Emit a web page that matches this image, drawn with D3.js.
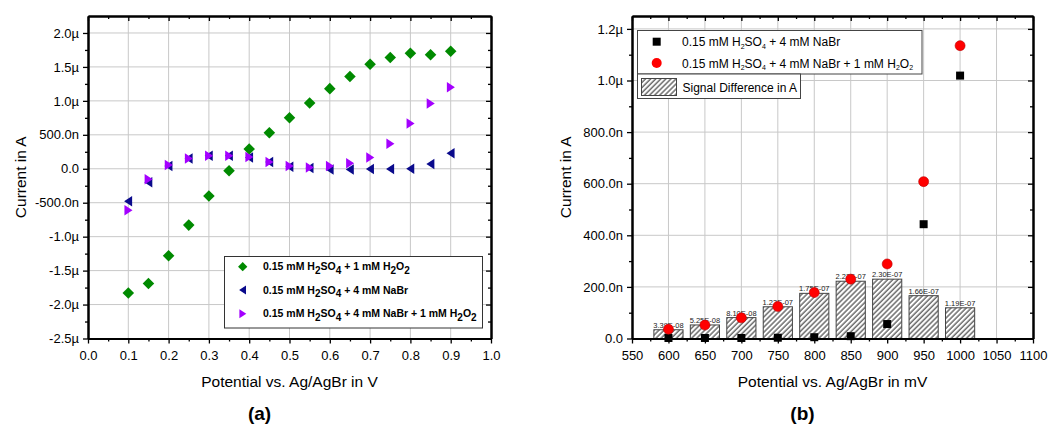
<!DOCTYPE html>
<html><head><meta charset="utf-8">
<script src="https://cdn.jsdelivr.net/npm/d3@7"></script>
<style>body{margin:0;background:#fff}svg{display:block}text{font-family:"Liberation Sans",Arial,sans-serif}</style>
</head><body>
<script>
// ---------- DATA (panel a) ----------
const potentialA = [0.10,0.15,0.20,0.25,0.30,0.35,0.40,0.45,0.50,0.55,0.60,0.65,0.70,0.75,0.80,0.85,0.90];
const h2o2Only = [-1.83e-6,-1.69e-6,-1.28e-6,-0.83e-6,-0.40e-6,-0.03e-6,0.29e-6,0.53e-6,0.75e-6,0.97e-6,1.18e-6,1.36e-6,1.54e-6,1.64e-6,1.70e-6,1.68e-6,1.73e-6];
const nabrOnly = [-0.48e-6,-0.20e-6,0.04e-6,0.15e-6,0.19e-6,0.19e-6,0.165e-6,0.10e-6,0.03e-6,0.01e-6,-0.01e-6,-0.01e-6,-0.005e-6,-0.005e-6,0.0,0.07e-6,0.23e-6];
const nabrH2o2 = [-0.61e-6,-0.155e-6,0.055e-6,0.15e-6,0.19e-6,0.19e-6,0.175e-6,0.10e-6,0.04e-6,0.02e-6,0.04e-6,0.08e-6,0.165e-6,0.37e-6,0.665e-6,0.96e-6,1.20e-6];
const xTicksA = [0,0.1,0.2,0.3,0.4,0.5,0.6,0.7,0.8,0.9,1.0];
const xMinorA = [0.05,0.15,0.25,0.35,0.45,0.55,0.65,0.75,0.85,0.95];
const yTicksA = [-2.5e-6,-2.0e-6,-1.5e-6,-1.0e-6,-0.5e-6,0,0.5e-6,1.0e-6,1.5e-6,2.0e-6];
const yMinorA = [-2.25e-6,-1.75e-6,-1.25e-6,-0.75e-6,-0.25e-6,0.25e-6,0.75e-6,1.25e-6,1.75e-6];
const legendA = [
  [["0.15 mM H",0],["2",1],["SO",0],["4",1],[" + 1 mM H",0],["2",1],["O",0],["2",1]],
  [["0.15 mM H",0],["2",1],["SO",0],["4",1],[" + 4 mM NaBr",0]],
  [["0.15 mM H",0],["2",1],["SO",0],["4",1],[" + 4 mM NaBr + 1 mM H",0],["2",1],["O",0],["2",1]]
];
// ---------- DATA (panel b) ----------
const potentialB = [600,650,700,750,800,850,900,950,1000];
const nabrB = [2e-9,2e-9,2e-9,3e-9,5e-9,9e-9,56e-9,443e-9,1019e-9];
const nabrH2o2B = [36e-9,52e-9,80e-9,124e-9,178e-9,230e-9,289e-9,608e-9,1135e-9];
const signalDiff = [3.39e-8,5.25e-8,8.10e-8,1.23e-7,1.75e-7,2.22e-7,2.30e-7,1.66e-7,1.19e-7];
const xTicksB = [550,600,650,700,750,800,850,900,950,1000,1050,1100];
const xMinorB = [575,625,675,725,775,825,875,925,975,1025,1075];
const yTicksB = [0,200e-9,400e-9,600e-9,800e-9,1000e-9,1200e-9];
const yMinorB = [100e-9,300e-9,500e-9,700e-9,900e-9,1100e-9];
const legendB = [
  [["0.15 mM H",0],["2",1],["SO",0],["4",1],[" + 4 mM NaBr",0]],
  [["0.15 mM H",0],["2",1],["SO",0],["4",1],[" + 4 mM NaBr + 1 mM H",0],["2",1],["O",0],["2",1]]
];

// ---------- helpers ----------
function fmtSI(v){
  if (Math.abs(v) < 1e-15) return "0.0";
  if (Math.abs(v) >= 1e-6 - 1e-12) return (v/1e-6).toFixed(1) + "\u00b5";
  return (v/1e-9).toFixed(1) + "n";
}
function fmtE(v){
  const e = Math.floor(Math.log10(v));
  const m = v/Math.pow(10,e);
  return m.toFixed(2) + "E-" + String(-e).padStart(2,"0");
}
function richText(g, x, y, parts, size, weight, subSize, subShift){
  const t = g.append("text").attr("x",x).attr("y",y).attr("font-size",size).attr("font-weight",weight).attr("fill","#000");
  let shifted = false;
  parts.forEach(([s,sub]) => {
    const ts = t.append("tspan").text(s);
    if (sub && !shifted){ ts.attr("dy",subShift).attr("font-size",subSize); shifted = true; }
    else if (sub){ ts.attr("font-size",subSize); }
    else if (!sub && shifted){ ts.attr("dy",-subShift); shifted = false; }
  });
  return t;
}

const svg = d3.select("body").append("svg").attr("width",1050).attr("height",426);
const defs = svg.append("defs");
const pat = defs.append("pattern").attr("id","hatch").attr("patternUnits","userSpaceOnUse")
  .attr("width",3.6).attr("height",3.6).attr("patternTransform","rotate(45)");
pat.append("rect").attr("width",3.6).attr("height",3.6).attr("fill","#fff");
pat.append("line").attr("x1",1).attr("y1",0).attr("x2",1).attr("y2",3.6).attr("stroke","#222").attr("stroke-width",1);

function frame(g, x, y, xT, xM, yT, yM, xFmt, xLab, yLabX, panelLabel){
  const [x0,x1] = x.range(), [y0,y1] = y.range();
  g.append("g").selectAll("line").data(xT.filter(d=>x(d)>x0+1 && x(d)<x1-1)).join("line")
    .attr("x1",d=>x(d)).attr("x2",d=>x(d)).attr("y1",y1).attr("y2",y0).attr("stroke","#c8c8c8").attr("stroke-width",1);
  g.append("g").selectAll("line").data(yT.filter(d=>y(d)<y0-1 && y(d)>y1+1)).join("line")
    .attr("y1",d=>y(d)).attr("y2",d=>y(d)).attr("x1",x0).attr("x2",x1).attr("stroke","#c8c8c8").attr("stroke-width",1);
  const style = a => { a.selectAll("path").attr("stroke","#000").attr("stroke-width",2);
    a.selectAll("line").attr("stroke","#000").attr("stroke-width",1.3);
    a.selectAll("text").attr("font-size",13).attr("fill","#000").attr("font-family","Liberation Sans, Arial, sans-serif"); };
  const axes = g.append("g").attr("class","axes");
  axes.append("g").attr("transform",`translate(0,${y0})`).call(d3.axisBottom(x).tickValues(xT).tickFormat(xFmt).tickSizeInner(5).tickSizeOuter(0).tickPadding(7)).call(style);
  axes.append("g").attr("transform",`translate(0,${y0})`).call(d3.axisBottom(x).tickValues(xM).tickFormat("").tickSizeInner(3).tickSizeOuter(0)).call(style);
  axes.append("g").attr("transform",`translate(0,${y1})`).call(d3.axisTop(x).tickValues(xT).tickFormat("").tickSizeInner(-5).tickSizeOuter(0)).call(style);
  axes.append("g").attr("transform",`translate(0,${y1})`).call(d3.axisTop(x).tickValues(xM).tickFormat("").tickSizeInner(-3).tickSizeOuter(0)).call(style);
  axes.append("g").attr("transform",`translate(${x0},0)`).call(d3.axisLeft(y).tickValues(yT).tickFormat(fmtSI).tickSizeInner(5).tickSizeOuter(0).tickPadding(4)).call(style);
  axes.append("g").attr("transform",`translate(${x0},0)`).call(d3.axisLeft(y).tickValues(yM).tickFormat("").tickSizeInner(3).tickSizeOuter(0)).call(style);
  axes.append("g").attr("transform",`translate(${x1},0)`).call(d3.axisRight(y).tickValues(yT).tickFormat("").tickSizeInner(-5).tickSizeOuter(0)).call(style);
  axes.append("g").attr("transform",`translate(${x1},0)`).call(d3.axisRight(y).tickValues(yM).tickFormat("").tickSizeInner(-3).tickSizeOuter(0)).call(style);
  g.append("text").attr("x",(x0+x1)/2).attr("y",387).attr("text-anchor","middle").attr("font-size",15.5).text(xLab);
  g.append("text").attr("transform",`translate(${yLabX},${(y0+y1)/2}) rotate(-90)`).attr("text-anchor","middle").attr("font-size",15.5).text("Current in A");
  g.append("text").attr("x",(x0+x1)/2 - 30).attr("y",420).attr("text-anchor","middle").attr("font-size",19)
    .attr("font-weight","bold").attr("font-family","Liberation Serif, serif").text(panelLabel);
}

// ---------- panel a ----------
const gA = svg.append("g");
const xA = d3.scaleLinear().domain([0,1]).range([88,491]);
const yA = d3.scaleLinear().domain([-2.5e-6,2.25e-6]).range([338.5,16]);
frame(gA, xA, yA, xTicksA, xMinorA, yTicksA, yMinorA, d3.format(".1f"), "Potential vs. Ag/AgBr in V", 26, "(a)");
const diamond = d3.symbol().type(d3.symbolDiamond2).size(85);
const triL = s => `M${-s*0.6},0L${s*0.55},${-s*0.75}L${s*0.55},${s*0.75}Z`;
const triR = s => `M${s*0.6},0L${-s*0.55},${-s*0.75}L${-s*0.55},${s*0.75}Z`;
const colA = ["#008a00","#0a0a8c","#a400ff"];
gA.append("g").selectAll("path").data(potentialA.map((p,i)=>[p,h2o2Only[i]])).join("path")
  .attr("transform",d=>`translate(${xA(d[0])},${yA(d[1])})`).attr("d",diamond).attr("fill",colA[0]);
gA.append("g").selectAll("path").data(potentialA.map((p,i)=>[p,nabrOnly[i]])).join("path")
  .attr("transform",d=>`translate(${xA(d[0])},${yA(d[1])})`).attr("d",triL(7)).attr("fill",colA[1]);
gA.append("g").selectAll("path").data(potentialA.map((p,i)=>[p,nabrH2o2[i]])).join("path")
  .attr("transform",d=>`translate(${xA(d[0])},${yA(d[1])})`).attr("d",triR(7)).attr("fill",colA[2]);
// legend a
const lgA = gA.append("g");
lgA.append("rect").attr("x",224.5).attr("y",256.5).attr("width",258).attr("height",71.5).attr("fill","#fff").attr("stroke","#333").attr("stroke-width",1);
const lyA = [266.7,290,313.7];
lgA.append("path").attr("transform",`translate(242.7,${lyA[0]})`).attr("d",d3.symbol().type(d3.symbolDiamond2).size(55)).attr("fill",colA[0]);
lgA.append("path").attr("transform",`translate(242.7,${lyA[1]})`).attr("d",triL(6)).attr("fill",colA[1]);
lgA.append("path").attr("transform",`translate(242.7,${lyA[2]})`).attr("d",triR(6)).attr("fill",colA[2]);
legendA.forEach((parts,i)=>richText(lgA, 263, lyA[i]+3.5, parts, 10.5, "bold", 10, 3.5));

// ---------- panel b ----------
const gB = svg.append("g");
const xB = d3.scaleLinear().domain([550,1100]).range([632,1033]);
const yB = d3.scaleLinear().domain([0,1.25e-6]).range([338.5,16]);
frame(gB, xB, yB, xTicksB, xMinorB, yTicksB, yMinorB, d3.format("d"), "Potential vs. Ag/AgBr in mV", 571, "(b)");
const bars = gB.insert("g",".axes");
bars.selectAll("rect").data(potentialB.map((p,i)=>[p,signalDiff[i]])).join("rect")
  .attr("x",d=>xB(d[0]-20)).attr("width",d=>xB(d[0]+20)-xB(d[0]-20))
  .attr("y",d=>yB(d[1])).attr("height",d=>yB(0)-yB(d[1]))
  .attr("fill","url(#hatch)").attr("stroke","#444").attr("stroke-width",1);
bars.selectAll("text").data(potentialB.map((p,i)=>[p,signalDiff[i]])).join("text")
  .attr("x",d=>xB(d[0])).attr("y",d=>yB(d[1])-2).attr("text-anchor","middle").attr("font-size",7.5).attr("fill","#222")
  .text(d=>fmtE(d[1]));
gB.append("g").selectAll("rect").data(potentialB.map((p,i)=>[p,nabrB[i]])).join("rect")
  .attr("x",d=>xB(d[0])-4).attr("y",d=>yB(d[1])-4).attr("width",8).attr("height",8).attr("fill","#000");
gB.append("g").selectAll("circle").data(potentialB.map((p,i)=>[p,nabrH2o2B[i]])).join("circle")
  .attr("cx",d=>xB(d[0])).attr("cy",d=>yB(d[1])).attr("r",5).attr("fill","#f00").attr("stroke","#b00").attr("stroke-width",0.6);
// legend b
const lgB = gB.append("g");
lgB.append("rect").attr("x",637.5).attr("y",30.5).attr("width",284.5).attr("height",43.5).attr("fill","#fff").attr("stroke","#444").attr("stroke-width",1);
lgB.append("rect").attr("x",637.5).attr("y",74).attr("width",163).attr("height",24.5).attr("fill","#fff").attr("stroke","#444").attr("stroke-width",1);
lgB.append("rect").attr("x",656.7-4).attr("y",41.7-4).attr("width",8).attr("height",8).attr("fill","#000");
lgB.append("circle").attr("cx",656.7).attr("cy",63).attr("r",5).attr("fill","#f00");
lgB.append("rect").attr("x",641.5).attr("y",78.5).attr("width",35).attr("height",17).attr("fill","url(#hatch)").attr("stroke","#444").attr("stroke-width",1);
legendB.forEach((parts,i)=>richText(lgB, 682, [46,67.5][i], parts, 12, "normal", 7, 2.5));
lgB.append("text").attr("x",682.5).attr("y",92).attr("font-size",12).text("Signal Difference in A");
</script>
</body></html>
